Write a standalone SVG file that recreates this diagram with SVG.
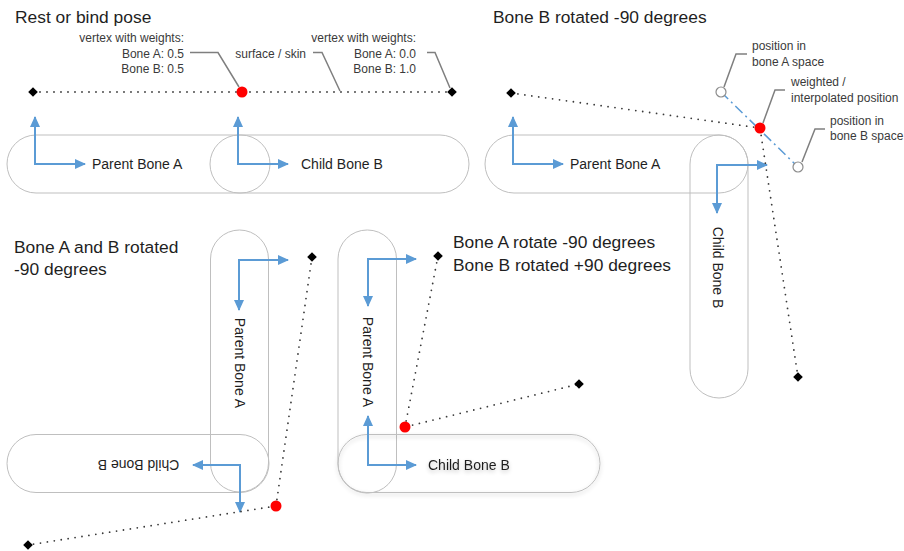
<svg xmlns="http://www.w3.org/2000/svg" width="904" height="551" viewBox="0 0 904 551">
<style>
  text { font-family: "Liberation Sans", Arial, sans-serif; }
  .title { font-size: 17.4px; fill: #1f1f1f; }
  .bone { font-size: 14px; fill: #1f1f1f; }
  .lbl { font-size: 12px; fill: #3a3a3a; }
  .cap { fill: none; stroke: #bfbfbf; stroke-width: 1; }
  .axis { fill: none; stroke: #5b9bd5; stroke-width: 2; marker-start: url(#ah); marker-end: url(#ah); }
  .dots { fill: none; stroke: #3a3a3a; stroke-width: 1.8; stroke-dasharray: 0 7; stroke-linecap: round; }
  .leader { fill: none; stroke: #7f7f7f; stroke-width: 1.5; }
  .dashdot { fill: none; stroke: #5b9bd5; stroke-width: 1.5; stroke-dasharray: 10 4 2 4; }
  .vtx { fill: #ff0000; }
  .ghost { fill: #ffffff; stroke: #8c8c8c; stroke-width: 1.2; }
</style>
<defs>
  <marker id="ah" markerUnits="userSpaceOnUse" markerWidth="11" markerHeight="10" refX="10" refY="5" orient="auto-start-reverse">
    <path d="M0,0 L11,5 L0,10 z" fill="#5b9bd5"/>
  </marker>
  <path id="dia" d="M0,-4.8 L4.8,0 L0,4.8 L-4.8,0 z" fill="#000"/>
  <filter id="sh" x="-10%" y="-20%" width="120%" height="150%">
    <feGaussianBlur in="SourceAlpha" stdDeviation="2"/>
    <feOffset dx="0" dy="2" result="b"/>
    <feComponentTransfer><feFuncA type="linear" slope="0.25"/></feComponentTransfer>
    <feMerge><feMergeNode/><feMergeNode in="SourceGraphic"/></feMerge>
  </filter>
</defs>
<rect width="904" height="551" fill="#ffffff"/>

<!-- Titles -->
<g id="titles">
  <text class="title" x="15" y="23">Rest or bind pose</text>
  <text class="title" x="493" y="23">Bone B rotated -90 degrees</text>
  <text class="title" x="14" y="253">Bone A and B rotated</text>
  <text class="title" x="14" y="275">-90 degrees</text>
  <text class="title" x="453" y="248">Bone A rotate -90 degrees</text>
  <text class="title" x="453" y="271">Bone B rotated +90 degrees</text>
</g>

<!-- Panel 1: rest pose -->
<g id="p1-boneA">
  <rect class="cap" x="7" y="135" width="263" height="58" rx="29"/>
  <text class="bone" x="92" y="169">Parent Bone A</text>
</g>
<g id="p1-boneB">
  <rect class="cap" x="210" y="135" width="259" height="58" rx="29"/>
  <text class="bone" x="301" y="169">Child Bone B</text>
</g>

<!-- Panel 2: bone B rotated -->
<g id="p2-boneA">
  <rect class="cap" x="485" y="135" width="263" height="58" rx="29"/>
  <text class="bone" x="570" y="169">Parent Bone A</text>
</g>
<g id="p2-boneB">
  <rect class="cap" x="690" y="135" width="58" height="263" rx="29"/>
  <text class="bone" text-anchor="middle" transform="translate(713,267.5) rotate(90)">Child Bone B</text>
</g>

<!-- Panel 3: both rotated -->
<g id="p3-boneA">
  <rect class="cap" x="210.5" y="230" width="58" height="262" rx="29"/>
  <text class="bone" text-anchor="middle" transform="translate(235,363) rotate(90)">Parent Bone A</text>
</g>
<g id="p3-boneB">
  <rect class="cap" x="7" y="434.5" width="262" height="58" rx="29"/>
  <text class="bone" text-anchor="middle" transform="translate(138.5,459.5) rotate(180)">Child Bone B</text>
</g>

<!-- Panel 4: A -90, B +90 -->
<g id="p4-boneA">
  <rect class="cap" x="338" y="230" width="58.5" height="263" rx="29"/>
  <text class="bone" text-anchor="middle" transform="translate(362.5,362) rotate(90)">Parent Bone A</text>
</g>
<g id="p4-boneB" filter="url(#sh)">
  <rect class="cap" x="338" y="434.5" width="262" height="58" rx="29"/>
  <text class="bone" x="428" y="469.5">Child Bone B</text>
</g>

<!-- Connectors -->
<g id="connectors">
  <!-- bone axes -->
  <path class="axis" d="M35,117 V164 H85"/>
  <path class="axis" d="M238,117 V164 H288"/>
  <path class="axis" d="M513,117 V164 H563"/>
  <path class="axis" d="M717,213 V165 H767"/>
  <path class="axis" d="M288,260 H239 V310"/>
  <path class="axis" d="M193,465 H240 V512"/>
  <path class="axis" d="M416,259 H368 V306"/>
  <path class="axis" d="M368,416 V465 H416"/>
  <!-- surface / skin -->
  <path class="dots" d="M33,92 H452"/>
  <path class="dots" d="M511,93 L760,128 L798,377"/>
  <path class="dots" d="M312,257 L276,506 L28,545"/>
  <path class="dots" d="M438,256 L405,427 L579,384"/>
  <!-- interpolation line -->
  <path class="dashdot" d="M721,92 L798,167"/>
  <!-- leaders -->
  <path class="leader" d="M190,52.5 H218 L239,87"/>
  <path class="leader" d="M313,52.5 H322 L340,91"/>
  <path class="leader" d="M427,52.5 H435 L450,88"/>
  <path class="leader" d="M747,54 H736 L724,87"/>
  <path class="leader" d="M785,90 H775 L763,123"/>
  <path class="leader" d="M825,129 H815 L802,162"/>
</g>

<!-- Vertices -->
<g id="vertices">
  <use href="#dia" x="33" y="92"/>
  <use href="#dia" x="452" y="92"/>
  <circle class="vtx" cx="242" cy="92" r="5.5"/>
  <use href="#dia" x="511" y="93"/>
  <use href="#dia" x="798" y="377"/>
  <circle class="ghost" cx="721" cy="92" r="5"/>
  <circle class="ghost" cx="798" cy="167" r="5"/>
  <circle class="vtx" cx="760" cy="128" r="5.5"/>
  <use href="#dia" x="312" y="257"/>
  <use href="#dia" x="28" y="545"/>
  <circle class="vtx" cx="276" cy="506" r="5.5"/>
  <use href="#dia" x="438" y="256"/>
  <use href="#dia" x="579" y="384"/>
  <circle class="vtx" cx="405" cy="427" r="5.5"/>
</g>

<!-- Labels -->
<g id="labels">
  <text class="lbl" text-anchor="end" x="184" y="41.5">vertex with weights:</text>
  <text class="lbl" text-anchor="end" x="184" y="57.5">Bone A: 0.5</text>
  <text class="lbl" text-anchor="end" x="184" y="73">Bone B: 0.5</text>
  <text class="lbl" text-anchor="end" x="306" y="57.5">surface / skin</text>
  <text class="lbl" text-anchor="end" x="416" y="41.5">vertex with weights:</text>
  <text class="lbl" text-anchor="end" x="416" y="57.5">Bone A: 0.0</text>
  <text class="lbl" text-anchor="end" x="416" y="73">Bone B: 1.0</text>
  <text class="lbl" x="752" y="50">position in</text>
  <text class="lbl" x="752" y="65.5">bone A space</text>
  <text class="lbl" x="791" y="86">weighted /</text>
  <text class="lbl" x="791" y="101.5">interpolated position</text>
  <text class="lbl" x="830" y="124.5">position in</text>
  <text class="lbl" x="830" y="140">bone B space</text>
</g>
</svg>
